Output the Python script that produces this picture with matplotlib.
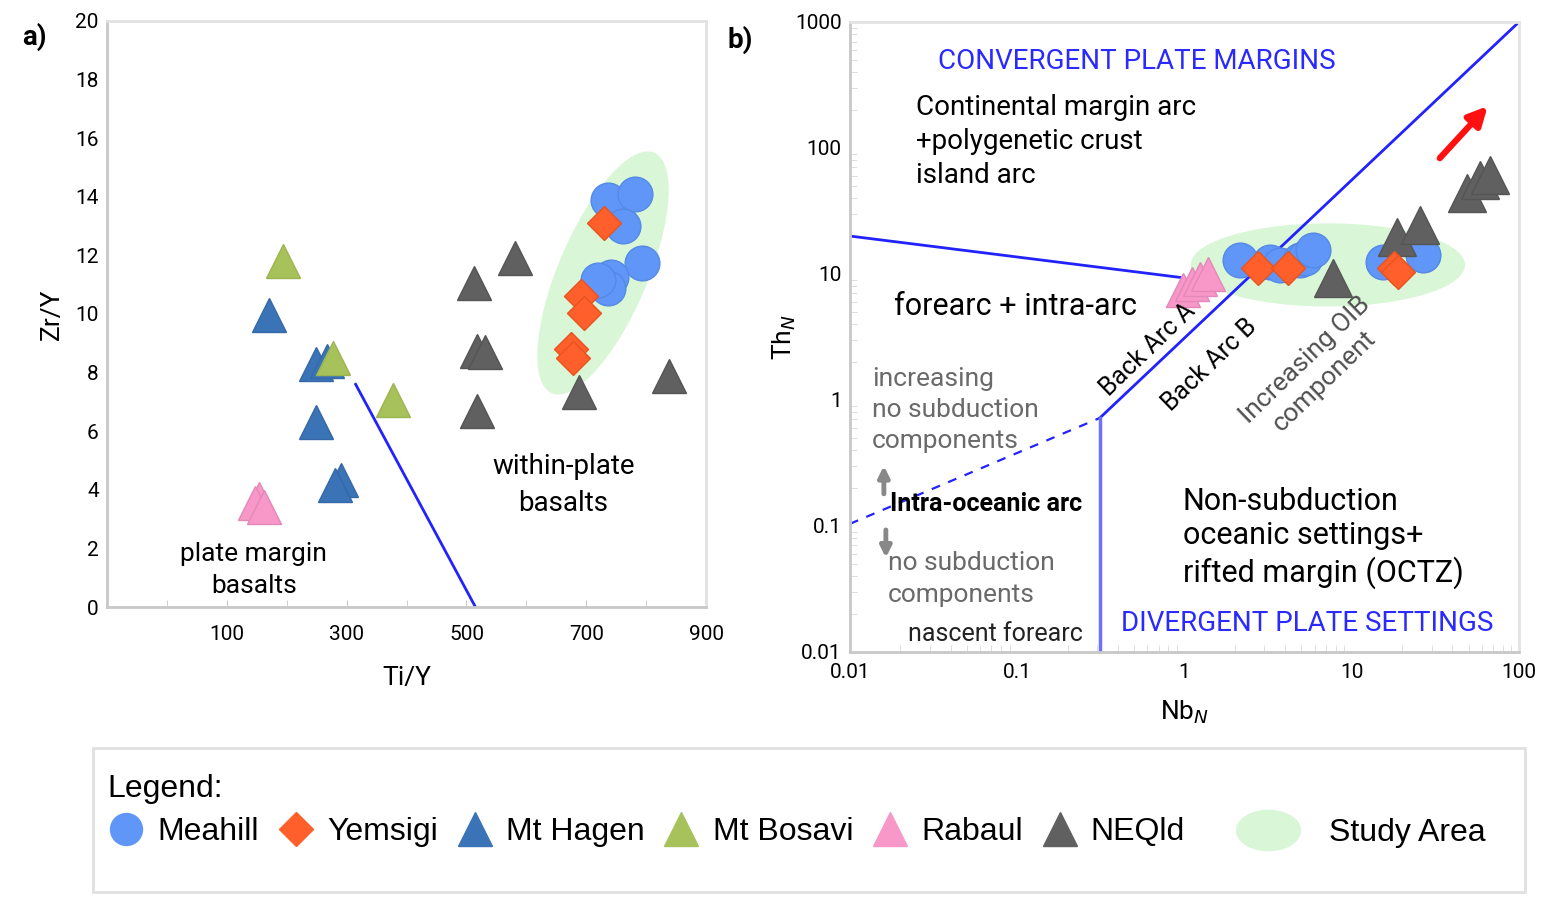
import numpy as np
import matplotlib
matplotlib.use("Agg")
import matplotlib.pyplot as plt
from matplotlib.lines import Line2D
from matplotlib.patches import Rectangle
from matplotlib.path import Path

plt.rcParams['font.family'] = ['Roboto', 'DejaVu Sans']

# ---- data: panel a (Ti/Y vs Zr/Y) ----
meahill_a_x = [736, 781, 762, 793, 742, 736, 720]
meahill_a_y = [13.9, 14.1, 13.0, 11.75, 11.25, 10.9, 11.15]
yemsigi_a_x = [730, 691, 697, 675, 678]
yemsigi_a_y = [13.1, 10.6, 10.05, 8.8, 8.5]
hagen_a_x = [170, 248, 268, 248, 290, 281]
hagen_a_y = [9.95, 8.3, 8.4, 6.3, 4.35, 4.15]
bosavi_a_x = [193, 278, 378]
bosavi_a_y = [11.8, 8.5, 7.05]
rabaul_a_x = [153, 147, 162]
rabaul_a_y = [3.7, 3.55, 3.4]
neqld_a_x = [512, 581, 518, 531, 518, 688, 838]
neqld_a_y = [11.05, 11.9, 8.75, 8.7, 6.7, 7.35, 7.9]
# discriminant line and study-area ellipse (centre, half axes)
line_a_x = [315, 515]
line_a_y = [7.6, 0]
ell_a_c = (728, 11.4)
ell_a_major = (86, 4.1)
ell_a_minor = (68, -0.63)

# ---- data: panel b (NbN vs ThN) ----
meahill_b_x = [2.14, 3.24, 3.72, 4.9, 5.25, 5.85, 15.3, 26.6]
meahill_b_y = [12.9, 12.4, 11.8, 12.9, 13.4, 15.5, 12.4, 14.2]
yemsigi_b_x = [2.75, 4.15, 17.9, 18.9]
yemsigi_b_y = [11.2, 11.2, 11.2, 10.4]
rabaul_b_x = [0.98, 1.11, 1.24, 1.38]
rabaul_b_y = [7.5, 8.3, 9.1, 10.0]
neqld_b_x = [7.7, 18.6, 25.5, 48.8, 58.3, 66.8]
neqld_b_y = [9.3, 19.7, 24.5, 44.0, 55.7, 61.0]
diag_x = [0.312, 100]
diag_y = [0.72, 1000]
dash_x = [0.01, 0.312]
dash_y = [0.104, 0.72]
vert_x = [0.312, 0.312]
vert_y = [0.01, 0.72]
fore_x = [0.01, 1.0]
fore_y = [20, 9.3]
ell_b_c = (7.2, 11.8)       # centre
ell_b_dec = (0.82, 0.33)    # half axes in decades
arrow_from = (33.6, 83)
arrow_to = (65, 215)
log_ticks = [0.01, 0.1, 1, 10, 100, 1000]
log_labels = ['0.01', '0.1', '1', '10', '100', '1000']

c_meahill = '#5f96f7'
c_yemsigi = '#fe5f2b'
c_hagen = '#3b74b6'
c_bosavi = '#a8c25b'
c_rabaul = '#f798c9'
c_neqld = '#606060'
c_study = '#d9f7d6'
c_blue = '#2222ff'
grey_spine = '#c8c8c8'

fig = plt.figure(figsize=(15.47, 9.01), dpi=100)


def style_spines(ax):
    for s in ['left', 'bottom']:
        ax.spines[s].set_color(grey_spine)
        ax.spines[s].set_linewidth(2)
    for s in ['top', 'right']:
        ax.spines[s].set_color('#e2e2e2')
        ax.spines[s].set_linewidth(2)


# ================= panel a =================
ax = fig.add_axes([0.0692, 0.3263, 0.3872, 0.6504])
t = np.linspace(0, 2 * np.pi, 200)
ex = ell_a_c[0] + ell_a_major[0] * np.cos(t) + ell_a_minor[0] * np.sin(t)
ey = ell_a_c[1] + ell_a_major[1] * np.cos(t) + ell_a_minor[1] * np.sin(t)
ax.fill(ex, ey, color=c_study, lw=0, zorder=1)
ax.plot(line_a_x, line_a_y, color=c_blue, lw=2, zorder=2)

ms_a = 25
ax.plot(neqld_a_x, neqld_a_y, '^', ms=ms_a, color=c_neqld, mec='#555555', zorder=3)
ax.plot(hagen_a_x, hagen_a_y, '^', ms=ms_a, color=c_hagen, mec='#3468a8', zorder=3)
ax.plot(bosavi_a_x, bosavi_a_y, '^', ms=ms_a, color=c_bosavi, mec='#9db54f', zorder=3)
ax.plot(rabaul_a_x, rabaul_a_y, '^', ms=ms_a, color=c_rabaul, mec='#e488b8', zorder=3)
ax.plot(meahill_a_x, meahill_a_y, 'o', ms=25, color=c_meahill, mec='#5489e6', zorder=4)
ax.plot(yemsigi_a_x, yemsigi_a_y, 'D', ms=17, color=c_yemsigi, mec='#e9531f', zorder=5)

ax.text(145, 1.26, 'plate margin\nbasalts', ha='center', va='center', fontsize=19,
        linespacing=1.4)
ax.text(662, 4.16, 'within-plate\nbasalts', ha='center', va='center', fontsize=20,
        linespacing=1.45)

ax.set_xlim(-100, 900)
ax.set_ylim(0, 20)
ax.set_xticks([100, 300, 500, 700, 900])
ax.set_xticks(np.arange(0, 901, 100), minor=True)
ax.set_yticks(np.arange(0, 21, 2))
ax.tick_params(axis='both', which='both', direction='in', color=grey_spine,
               labelsize=15)
ax.tick_params(axis='y', length=0, pad=6)
ax.tick_params(axis='x', which='both', length=5, pad=13)
ax.set_xlabel('Ti/Y', fontsize=19, labelpad=16)
ax.set_ylabel('Zr/Y', fontsize=19, labelpad=8)
style_spines(ax)

# ================= panel b =================
bx = fig.add_axes([0.5494, 0.2764, 0.4325, 0.6992])
bx.set_xscale('log')
bx.set_yscale('log')
lx = np.log10(ell_b_c[0]) + ell_b_dec[0] * np.cos(t)
ly = np.log10(ell_b_c[1]) + ell_b_dec[1] * np.sin(t)
bx.fill(10 ** lx, 10 ** ly, color=c_study, lw=0, zorder=1)

bx.plot(diag_x, diag_y, color=c_blue, lw=2, zorder=2)
bx.plot(dash_x, dash_y, color=c_blue, lw=1.6, ls=(0, (4, 4)), zorder=2)
bx.plot(vert_x, vert_y, color='#7070ff', lw=2.5, zorder=2)
bx.plot(fore_x, fore_y, color=c_blue, lw=2, zorder=2)

bx.plot(rabaul_b_x, rabaul_b_y, '^', ms=25, color=c_rabaul, mec='#e488b8', zorder=3)
bx.plot(meahill_b_x, meahill_b_y, 'o', ms=25, color=c_meahill, mec='#5489e6', zorder=4)
bx.plot(neqld_b_x, neqld_b_y, '^', ms=27, color=c_neqld, mec='#555555', zorder=4)
bx.plot(yemsigi_b_x, yemsigi_b_y, 'D', ms=17, color=c_yemsigi, mec='#e9531f', zorder=5)

bx.annotate('', xy=arrow_to, xytext=arrow_from,
            arrowprops=dict(arrowstyle='-|>', color='#ff1010', lw=4.5,
                            mutation_scale=28, shrinkA=0, shrinkB=0))

blue_txt = '#2a2aff'
bx.text(0.519, 482, 'CONVERGENT PLATE MARGINS', color=blue_txt, fontsize=20,
        ha='center', va='center')
bx.text(0.0248, 112, 'Continental margin arc\n+polygenetic crust\nisland arc',
        fontsize=20, ha='left', va='center', linespacing=1.33)
bx.text(0.0183, 5.47, 'forearc + intra-arc', fontsize=22, ha='left', va='center')
bx.text(0.604, 2.49, 'Back Arc A', fontsize=18, rotation=44, ha='center', va='center',
        rotation_mode='anchor')
bx.text(1.42, 1.90, 'Back Arc B', fontsize=18, rotation=44, ha='center', va='center',
        rotation_mode='anchor')
bx.text(6.0, 1.72, 'Increasing OIB\ncomponent', fontsize=19, rotation=44, ha='center',
        va='center', rotation_mode='anchor', color='#505050', linespacing=1.25)
bx.text(0.01354, 0.833, 'increasing\nno subduction\ncomponents', fontsize=19,
        color='#6a6a6a', ha='left', va='center', linespacing=1.38)
bx.annotate('', xy=(0.01596, 0.30), xytext=(0.01596, 0.18),
            arrowprops=dict(arrowstyle='-|>', color='#888888', lw=3.5,
                            mutation_scale=16, shrinkA=0, shrinkB=0))
bx.text(0.01734, 0.1496, 'Intra-oceanic arc', fontsize=18, fontweight='bold',
        ha='left', va='center')
bx.annotate('', xy=(0.0164, 0.056), xytext=(0.0164, 0.093),
            arrowprops=dict(arrowstyle='-|>', color='#888888', lw=3.5,
                            mutation_scale=16, shrinkA=0, shrinkB=0))
bx.text(0.01687, 0.0379, 'no subduction\ncomponents', fontsize=19, color='#6a6a6a',
        ha='left', va='center', linespacing=1.38)
bx.text(0.0746, 0.0139, 'nascent forearc', fontsize=18, color='#222222',
        ha='center', va='center')
bx.text(0.978, 0.0804, 'Non-subduction\noceanic settings+\nrifted margin (OCTZ)',
        fontsize=22, ha='left', va='center', linespacing=1.25)
bx.text(5.39, 0.0167, 'DIVERGENT PLATE SETTINGS', color=blue_txt, fontsize=20,
        ha='center', va='center')

bx.set_xlim(0.01, 100)
bx.set_ylim(0.01, 1000)
bx.set_xticks(log_ticks[:5], log_labels[:5])
bx.set_yticks(log_ticks, log_labels)
bx.tick_params(axis='both', which='both', direction='in', color='#d8d8d8',
               labelsize=15)
bx.tick_params(axis='both', which='major', length=0)
bx.tick_params(axis='both', which='minor', length=5)
bx.tick_params(axis='y', pad=6)
bx.tick_params(axis='x', pad=8)
bx.set_xlabel('Nb$_N$', fontsize=19, labelpad=12)
bx.set_ylabel('Th$_N$', fontsize=19, labelpad=-2)
style_spines(bx)

fig.text(0.0142, 0.959, 'a)', fontsize=20, fontweight='bold', va='center')
fig.text(0.470, 0.956, 'b)', fontsize=20, fontweight='bold', va='center')

# ================= legend =================
fig.patches.append(Rectangle((0.0601, 0.010), 0.9257, 0.1598, transform=fig.transFigure,
                             fill=False, edgecolor='#e0e0e0', lw=2))

names = ['Meahill', 'Yemsigi', 'Mt Hagen', 'Mt Bosavi', 'Rabaul', 'NEQld']
markers = ['o', 'D', '^', '^', '^', '^']
colors = [c_meahill, c_yemsigi, c_hagen, c_bosavi, c_rabaul, c_neqld]
sizes = [23, 17, 24, 24, 24, 24]
handles = [Line2D([], [], ls='none', marker=m, color=c, ms=s)
           for m, c, s in zip(markers, colors, sizes)]
leg_font = {'family': 'Liberation Sans', 'size': 23}
leg = fig.legend(handles, names, loc='upper left', bbox_to_anchor=(0.0692, 0.141),
                 ncol=6, frameon=False, prop=leg_font, title='Legend:',
                 title_fontproperties=leg_font, alignment='left', borderpad=0,
                 borderaxespad=0, handlelength=1.2, handletextpad=0.38,
                 columnspacing=0.55, labelspacing=0.4, numpoints=1)

tt = np.linspace(0, 2 * np.pi, 80)
ell_marker = Path(np.column_stack([np.cos(tt), 0.63 * np.sin(tt)]), closed=True)
study = Line2D([], [], ls='none', marker=ell_marker, color=c_study, ms=46)
leg2 = fig.legend([study], ['Study Area'], loc='center left',
                  bbox_to_anchor=(0.797, 0.075), frameon=False, prop=leg_font,
                  borderpad=0, borderaxespad=0, handlelength=2.2, handletextpad=0.8)

fig.savefig('out.png', dpi=100)
